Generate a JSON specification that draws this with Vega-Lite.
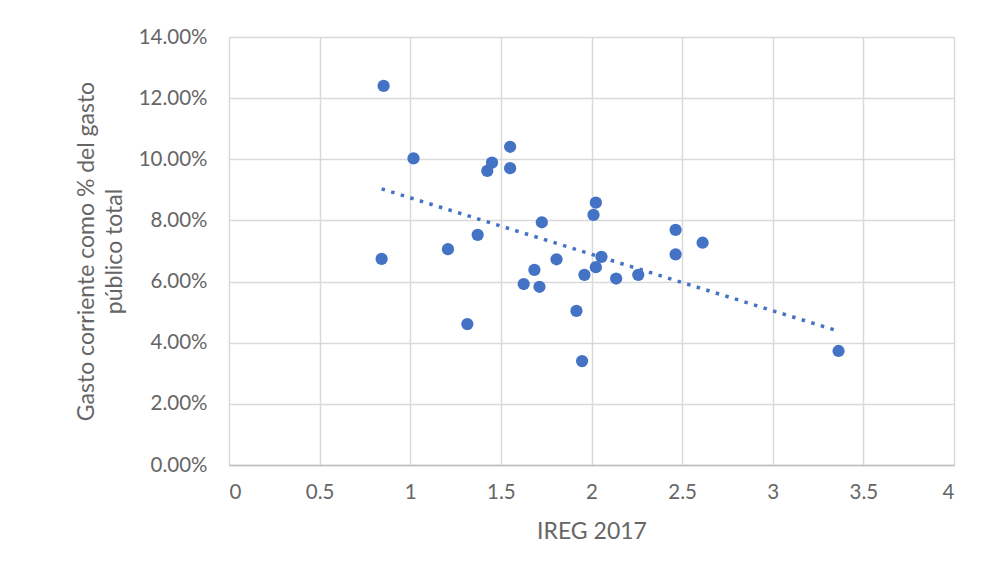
{
  "$schema": "https://vega.github.io/schema/vega-lite/v6.json",
  "width": 725,
  "height": 428,
  "autosize": {"type": "none"},
  "padding": {"left": 229, "top": 37, "right": 32, "bottom": 118},
  "background": "#ffffff",
  "config": {
    "view": {"stroke": null},
    "font": "Lato",
    "axis": {
      "labelFont": "Lato",
      "titleFont": "Lato",
      "labelColor": "#666666",
      "titleColor": "#666666",
      "labelFontSize": 20.5,
      "titleFontSize": 23,
      "titleFontWeight": "normal",
      "gridColor": "#d9d9d9",
      "gridWidth": 1.5,
      "ticks": false
    }
  },
  "data": {
    "values": [
      {"ireg": 0.853, "gasto": 0.1240},
      {"ireg": 1.018, "gasto": 0.1003},
      {"ireg": 1.451, "gasto": 0.0989},
      {"ireg": 1.425, "gasto": 0.0962},
      {"ireg": 1.551, "gasto": 0.1041},
      {"ireg": 1.551, "gasto": 0.0971},
      {"ireg": 2.024, "gasto": 0.0858},
      {"ireg": 2.011, "gasto": 0.0818},
      {"ireg": 1.726, "gasto": 0.0794},
      {"ireg": 1.372, "gasto": 0.0753},
      {"ireg": 1.208, "gasto": 0.0706},
      {"ireg": 0.842, "gasto": 0.0674},
      {"ireg": 2.464, "gasto": 0.0769},
      {"ireg": 2.464, "gasto": 0.0689},
      {"ireg": 1.807, "gasto": 0.0673},
      {"ireg": 1.685, "gasto": 0.0638},
      {"ireg": 1.626, "gasto": 0.0592},
      {"ireg": 1.713, "gasto": 0.0583},
      {"ireg": 2.055, "gasto": 0.0681},
      {"ireg": 2.024, "gasto": 0.0647},
      {"ireg": 1.961, "gasto": 0.0622},
      {"ireg": 2.136, "gasto": 0.0610},
      {"ireg": 2.258, "gasto": 0.0622},
      {"ireg": 1.917, "gasto": 0.0504},
      {"ireg": 1.315, "gasto": 0.0461},
      {"ireg": 1.948, "gasto": 0.0340},
      {"ireg": 2.613, "gasto": 0.0727},
      {"ireg": 3.363, "gasto": 0.0373}
    ]
  },
  "encoding": {
    "x": {
      "field": "ireg",
      "type": "quantitative",
      "scale": {"domain": [0, 4], "nice": false, "zero": false},
      "axis": {
        "title": "IREG 2017",
        "values": [0, 0.5, 1, 1.5, 2, 2.5, 3, 3.5, 4],
        "format": "~g",
        "labelPadding": 17,
        "titlePadding": 18,
        "domainColor": "#bfbfbf",
        "domainWidth": 1.5
      }
    },
    "y": {
      "field": "gasto",
      "type": "quantitative",
      "scale": {"domain": [0, 0.14], "nice": false},
      "axis": {
        "title": ["Gasto corriente como % del gasto", "público total"],
        "titleLineHeight": 28,
        "values": [0, 0.02, 0.04, 0.06, 0.08, 0.1, 0.12, 0.14],
        "format": ".2%",
        "labelPadding": 22,
        "titlePadding": 12,
        "domain": false
      }
    }
  },
  "layer": [
    {
      "mark": {"type": "point", "filled": true, "size": 150, "color": "#4472C4", "opacity": 1}
    },
    {
      "transform": [{"regression": "gasto", "on": "ireg"}],
      "mark": {"type": "line", "color": "#4472C4", "strokeWidth": 3.5, "strokeDash": [3.5, 6.5]}
    }
  ]
}
